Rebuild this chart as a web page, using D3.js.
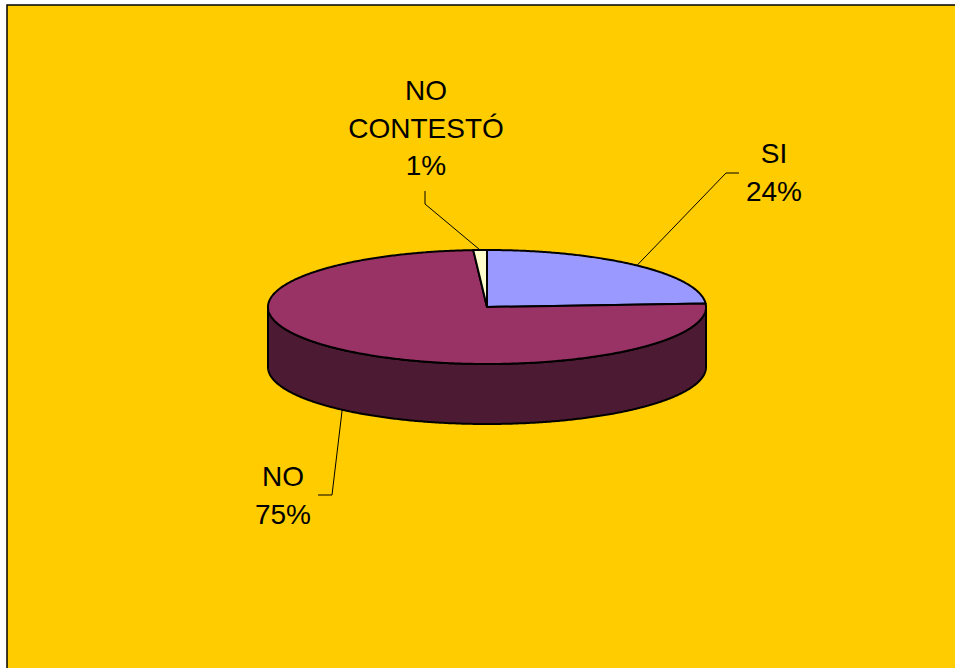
<!DOCTYPE html>
<html>
<head>
<meta charset="utf-8">
<script src="https://cdn.jsdelivr.net/npm/d3@7"></script>
<style>
  html, body { margin: 0; padding: 0; background: #ffffff; }
  svg { display: block; }
  text { font-family: "Liberation Sans", Arial, sans-serif; font-size: 28px; fill: #000; }
</style>
</head>
<body>
<svg id="chart" width="955" height="668"></svg>
<script>
// Survey answers and their shares (percent)
const categories = ["SI", "NO", "NO CONTESTÓ"];
const values = [24, 75, 1];
const percentLabels = ["24%", "75%", "1%"];
const sliceColors = ["#9999FF", "#993366", "#FFFFCC"];
const sideColors = ["#4D4D80", "#4D1A33", "#808066"];

const width = 955, height = 668;
const svg = d3.select("#chart");

// Chart area background with frame
svg.append("rect")
  .attr("x", 7).attr("y", 5)
  .attr("width", width + 20).attr("height", height + 20)
  .attr("fill", "#FFCC00")
  .attr("stroke", "#000").attr("stroke-width", 1.5);

// Tilted pie geometry
const cx = 487, cy = 307, rx = 219, ry = 57, depth = 60;

const pie = d3.pie().sort(null).value(d => d)
  .startAngle(0).endAngle(2 * Math.PI);
const arcs = pie(values);

// Map a pie angle (clockwise from 12 o'clock) onto the tilted ellipse
const px = a => cx + rx * Math.sin(a);
const py = (a, dy = 0) => cy - ry * Math.cos(a) + dy;

function sampleAngles(a0, a1, n) {
  const steps = Math.max(2, Math.ceil(Math.abs(a1 - a0) / (Math.PI / 180) * n));
  return d3.range(steps + 1).map(i => a0 + (a1 - a0) * i / steps);
}

const line = d3.line();

// Outer side walls (only the front half, PI/2 .. 3PI/2, is visible)
arcs.forEach((d, i) => {
  const a0 = Math.max(d.startAngle, Math.PI / 2);
  const a1 = Math.min(d.endAngle, 3 * Math.PI / 2);
  if (a1 <= a0) return;
  const top = sampleAngles(a0, a1, 2).map(a => [px(a), py(a)]);
  const bottom = sampleAngles(a1, a0, 2).map(a => [px(a), py(a, depth)]);
  svg.append("path")
    .attr("d", line(top.concat(bottom)) + "Z")
    .attr("fill", sideColors[i])
    .attr("stroke", "#000").attr("stroke-width", 2)
    .attr("stroke-linejoin", "round");
});

// Top faces of the slices
arcs.forEach((d, i) => {
  const pts = [[cx, cy]].concat(sampleAngles(d.startAngle, d.endAngle, 2).map(a => [px(a), py(a)]));
  svg.append("path")
    .attr("d", line(pts) + "Z")
    .attr("fill", sliceColors[i])
    .attr("stroke", "#000").attr("stroke-width", 2)
    .attr("stroke-linejoin", "round");
});

// Data labels with leader lines
const labelLayout = [
  { x: 774, y: 163, elbow: [726, 173], end: [739, 173] },
  { x: 283, y: 486, elbow: [332, 495], end: [318, 495] },
  { x: 426, y: 100, elbow: [425, 204], end: [425, 191] }
];
const lineHeight = 37.5;

arcs.forEach((d, i) => {
  const mid = (d.startAngle + d.endAngle) / 2;
  const onFront = mid > Math.PI / 2 && mid < 3 * Math.PI / 2;
  const start = [px(mid), py(mid, onFront ? depth : 0)];
  const L = labelLayout[i];
  svg.append("path")
    .attr("d", line([start, L.elbow, L.end]))
    .attr("fill", "none").attr("stroke", "#000").attr("stroke-width", 1);

  const words = categories[i].split(" ");
  const textLines = words.concat([percentLabels[i]]);
  const t = svg.append("text").attr("text-anchor", "middle");
  textLines.forEach((s, k) => {
    t.append("tspan").attr("x", L.x).attr("y", L.y + k * lineHeight).text(s);
  });
});
</script>
</body>
</html>
